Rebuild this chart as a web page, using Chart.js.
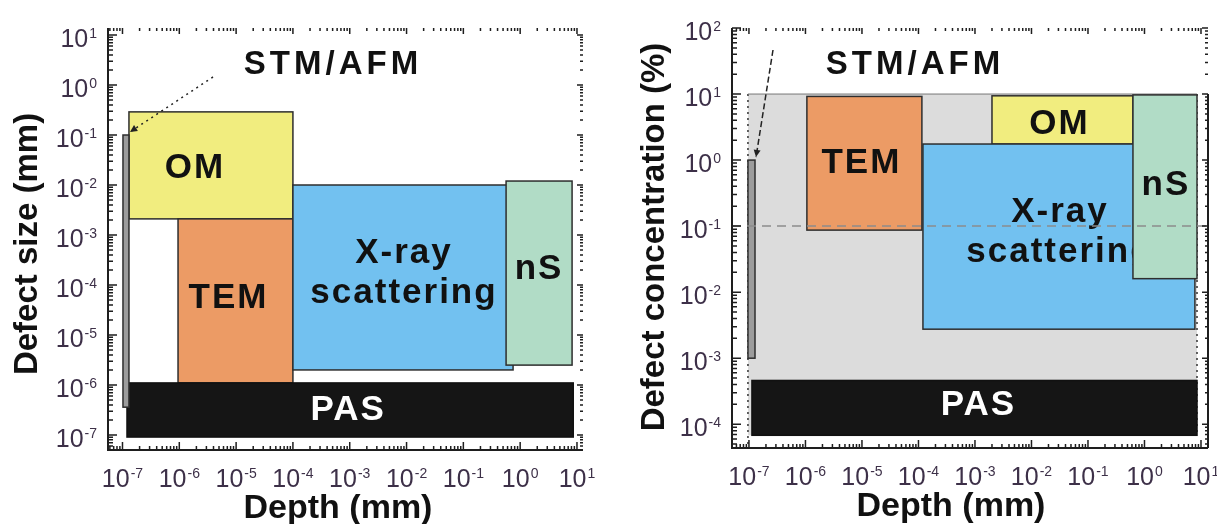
<!DOCTYPE html>
<html>
<head>
<meta charset="utf-8">
<script src="https://cdn.jsdelivr.net/npm/chart.js@4.4.1/dist/chart.umd.min.js"></script>
<style>
  body { margin: 0; background: #fff; }
  #wrap { position: relative; width: 1217px; height: 524px; }
  canvas { position: absolute; top: 0; }
</style>
</head>
<body>
<div id="wrap">
  <canvas id="sizeChart" width="608" height="524" style="left:0"></canvas>
  <canvas id="concChart" width="609" height="524" style="left:608px"></canvas>
</div>
<script>
// ---- defect size vs depth (mm) ----
const sizeMethods = ["OM", "TEM", "X-ray\nscattering", "nS", "PAS", "STM/AFM"];
const sizeDepthLo = [1.3e-7, 9.5e-7, 1e-4, 0.565, 1.2e-7, 1.02e-7];
const sizeDepthHi = [1e-4, 1e-4, 0.75, 8.2, 8.6, 1.3e-7];
const sizeLo = [2.1e-3, 1.1e-6, 2e-6, 2.5e-6, 9.1e-8, 3.6e-7];
const sizeHi = [0.29, 2.1e-3, 0.01, 0.012, 1.1e-6, 0.1];

// ---- defect concentration (%) vs depth (mm) ----
const concMethods = ["TEM", "OM", "X-ray\nscattering", "nS", "PAS", "STM/AFM"];
const concDepthLo = [1.06e-6, 2e-3, 1.2e-4, 0.625, 1.13e-7, 0.96e-7];
const concDepthHi = [1.15e-4, 0.625, 7.8, 8.5, 8.5, 1.28e-7];
const concLo = [0.087, 1.75, 2.75e-3, 0.016, 6.8e-5, 1e-3];
const concHi = [9.2, 9.4, 1.75, 9.7, 4.6e-4, 1.0];
const concSpanDepth = [0.96e-7, 8.5];   // shaded range
const concSpan = [6.8e-5, 10];
const concLimit = 0.1;

// decade exponents used for tick labels
const depthTicks = [-7, -6, -5, -4, -3, -2, -1, 0, 1];
const sizeTicks = [-7, -6, -5, -4, -3, -2, -1, 0, 1];
const concTicks = [-4, -3, -2, -1, 0, 1, 2];

const FONT = '"Liberation Sans", Arial, sans-serif';
const colors = {
  "OM": "#f1ed7f",
  "TEM": "#ec9b65",
  "X-ray\nscattering": "#72c1f0",
  "nS": "#b1dcc6",
  "PAS": "#151515",
  "STM/AFM": "#9c9c9c"
};

function makeDatasets(names, xlo, xhi, ylo, yhi, shifts) {
  return names.map((name, i) => ({
    label: name,
    data: [{ x: xlo[i], y: ylo[i] }, { x: xhi[i], y: yhi[i] }],
    backgroundColor: colors[name],
    borderColor: name === "PAS" ? "#111" : "#2e2e2e",
    text: name === "STM/AFM" ? null : name,
    textColor: name === "PAS" ? "#fff" : "#111",
    shift: shifts[name] || [0, 0],
    pointRadius: 0
  }));
}

function drawBlock(ctx, text, cx, cy, size, lineH, spacing) {
  const lines = text.split("\n");
  const cap = size * 0.716;
  const h = (lines.length - 1) * lineH + cap;
  ctx.font = "bold " + size + "px " + FONT;
  ctx.letterSpacing = spacing + "px";
  ctx.textAlign = "center";
  ctx.textBaseline = "alphabetic";
  lines.forEach((s, i) => ctx.fillText(s, cx + spacing / 2, cy - h / 2 + cap + i * lineH));
  ctx.letterSpacing = "0px";
}

function powLabel(ctx, exp, x, y, align) {
  const sup = String(exp);
  ctx.font = "25px " + FONT;
  const wb = ctx.measureText("10").width;
  ctx.font = "14px " + FONT;
  const ws = ctx.measureText(sup).width;
  const total = wb + 1 + ws;
  const x0 = align === "right" ? x - total : x - total / 2;
  ctx.textAlign = "left";
  ctx.textBaseline = "alphabetic";
  ctx.fillStyle = "#3d3048";
  ctx.font = "25px " + FONT;
  ctx.fillText("10", x0, y);
  ctx.font = "14px " + FONT;
  ctx.fillText(sup, x0 + wb + 1, y - 9);
}

function logTicks(scale, fn) {
  const lo = Math.floor(Math.log10(scale.min)), hi = Math.ceil(Math.log10(scale.max));
  for (let e = lo; e <= hi; e++) {
    for (let k = 1; k <= 9; k++) {
      const v = k * Math.pow(10, e);
      if (v < scale.min || v > scale.max) continue;
      fn(scale.getPixelForValue(v), k === 1);
    }
  }
}

const panelPlugin = {
  id: "panel",
  beforeDatasetsDraw(chart, args, o) {
    const { ctx, chartArea: a, scales: { x, y } } = chart;
    ctx.save();
    if (o.spanX) {
      const l = x.getPixelForValue(o.spanX[0]), r = x.getPixelForValue(o.spanX[1]);
      const t = y.getPixelForValue(o.spanY[1]), b = y.getPixelForValue(o.spanY[0]);
      ctx.fillStyle = "#dcdcdc";
      ctx.fillRect(l, t, r - l, b - t);
      ctx.strokeStyle = "#333";
      ctx.lineWidth = 1.5;
      ctx.setLineDash([2, 4]);
      ctx.beginPath();
      ctx.moveTo(l, t); ctx.lineTo(l, a.bottom - 4);
      ctx.moveTo(r, t); ctx.lineTo(r, b);
      ctx.stroke();
      ctx.setLineDash([]);
      ctx.strokeStyle = "#777";
      ctx.lineWidth = 1;
      ctx.beginPath(); ctx.moveTo(l, t); ctx.lineTo(r, t); ctx.stroke();
    }
    chart.data.datasets.forEach(ds => {
      const [p, q] = ds.data;
      const l = x.getPixelForValue(p.x), r = x.getPixelForValue(q.x);
      const t = y.getPixelForValue(q.y), b = y.getPixelForValue(p.y);
      ctx.fillStyle = ds.backgroundColor;
      ctx.fillRect(l, t, r - l, b - t);
      ctx.strokeStyle = ds.borderColor;
      ctx.lineWidth = 1.5;
      ctx.strokeRect(l, t, r - l, b - t);
      if (ds.text) {
        ctx.fillStyle = ds.textColor;
        drawBlock(ctx, ds.text, (l + r) / 2 + ds.shift[0], (t + b) / 2 + ds.shift[1], 35, 40, 2);
      }
    });
    if (o.limit) {
      const py = y.getPixelForValue(o.limit);
      ctx.strokeStyle = "#8c8c8c";
      ctx.lineWidth = 1.5;
      ctx.setLineDash([9, 6]);
      ctx.beginPath(); ctx.moveTo(a.left, py); ctx.lineTo(a.right, py); ctx.stroke();
      ctx.setLineDash([]);
    }
    ctx.restore();
  },
  afterDraw(chart, args, o) {
    const { ctx, chartArea: a, scales: { x, y } } = chart;
    ctx.save();

    // STM/AFM caption with pointer to its bar
    ctx.fillStyle = "#111";
    drawBlock(ctx, "STM/AFM", o.caption[0], o.caption[1], 33, 38, 4);
    const bar = chart.data.datasets.find(d => d.label === "STM/AFM").data[1];
    const hx = x.getPixelForValue(bar.x) + 1, hy = y.getPixelForValue(bar.y) - 3;
    const tx = o.caption[0] + o.tail[0], ty = o.caption[1] + o.tail[1];
    ctx.strokeStyle = "#222";
    ctx.lineWidth = 1.5;
    ctx.setLineDash(o.tailDash);
    ctx.beginPath(); ctx.moveTo(tx, ty); ctx.lineTo(hx, hy); ctx.stroke();
    ctx.setLineDash([]);
    const ang = Math.atan2(hy - ty, hx - tx);
    ctx.fillStyle = "#222";
    ctx.beginPath();
    ctx.moveTo(hx, hy);
    ctx.lineTo(hx - 8 * Math.cos(ang - 0.45), hy - 8 * Math.sin(ang - 0.45));
    ctx.lineTo(hx - 8 * Math.cos(ang + 0.45), hy - 8 * Math.sin(ang + 0.45));
    ctx.closePath();
    ctx.fill();

    // frame
    ctx.strokeStyle = "#1e1e1e";
    ctx.lineWidth = 2;
    ctx.beginPath();
    ctx.moveTo(a.left, a.top); ctx.lineTo(a.left, a.bottom); ctx.lineTo(a.right, a.bottom);
    if (o.rightLine) { ctx.moveTo(a.right, a.bottom); ctx.lineTo(a.right, y.getPixelForValue(o.rightLine)); }
    ctx.stroke();

    // ticks, inward on all four sides
    ctx.lineWidth = 1.5;
    ctx.beginPath();
    logTicks(x, (p, major) => {
      ctx.moveTo(p, a.bottom); ctx.lineTo(p, a.bottom - (major ? 8 : 4));
      ctx.moveTo(p, a.top); ctx.lineTo(p, a.top + (major ? 6 : 3));
    });
    logTicks(y, (p, major) => {
      ctx.moveTo(a.left, p); ctx.lineTo(a.left + (major ? 9 : 5), p);
      ctx.moveTo(a.right, p); ctx.lineTo(a.right - (major ? 6 : 3), p);
    });
    ctx.stroke();

    // tick labels
    o.xTicks.forEach(e => powLabel(ctx, e, x.getPixelForValue(Math.pow(10, e)), a.bottom + 37, "center"));
    o.yTicks.forEach(e => powLabel(ctx, e, a.left - 11, y.getPixelForValue(Math.pow(10, e)) + 12, "right"));

    // axis titles
    ctx.fillStyle = "#111";
    ctx.font = "bold 34px " + FONT;
    ctx.textAlign = "center";
    ctx.textBaseline = "alphabetic";
    ctx.fillText("Depth (mm)", o.xTitle[0], o.xTitle[1]);
    ctx.font = "bold 33px " + FONT;
    ctx.translate(o.yTitle[0], o.yTitle[1]);
    ctx.rotate(-Math.PI / 2);
    ctx.textBaseline = "middle";
    ctx.fillText(o.yTitleText, 0, 0);
    ctx.restore();
  }
};

function makeChart(id, datasets, xr, yr, padding, panel) {
  return new Chart(document.getElementById(id).getContext("2d"), {
    type: "scatter",
    data: { datasets },
    options: {
      responsive: false,
      animation: false,
      events: [],
      layout: { padding },
      scales: {
        x: { type: "logarithmic", display: false, bounds: "data", min: xr[0], max: xr[1] },
        y: { type: "logarithmic", display: false, bounds: "data", min: yr[0], max: yr[1] }
      },
      plugins: { legend: { display: false }, tooltip: { enabled: false }, panel }
    },
    plugins: [panelPlugin]
  });
}

makeChart("sizeChart",
  makeDatasets(sizeMethods, sizeDepthLo, sizeDepthHi, sizeLo, sizeHi, {
    "OM": [-17, 0], "TEM": [-8, -5], "X-ray\nscattering": [0, -7], "nS": [-1, -7], "PAS": [-3, -3]
  }),
  [Math.pow(10, -7.255), Math.pow(10, 1.106)],
  [Math.pow(10, -7.3), Math.pow(10, 1.14)],
  { left: 108, top: 28, right: 25, bottom: 74 },
  {
    caption: [331, 62], tail: [-118, 15], tailDash: [2, 4],
    xTicks: depthTicks, yTicks: sizeTicks,
    xTitle: [338, 518], yTitle: [28, 244], yTitleText: "Defect size (mm)"
  });

makeChart("concChart",
  makeDatasets(concMethods, concDepthLo, concDepthHi, concLo, concHi, {
    "TEM": [-4, -3], "OM": [-4, 2], "X-ray\nscattering": [0, -7], "nS": [0, -4], "PAS": [3, -5]
  }),
  [Math.pow(10, -7.3), Math.pow(10, 1.124)],
  [Math.pow(10, -4.36), 100],
  { left: 124, top: 28, right: 9, bottom: 76 },
  {
    spanX: concSpanDepth, spanY: concSpan, limit: concLimit, rightLine: 10,
    caption: [305, 62], tail: [-140, -12], tailDash: [6, 3],
    xTicks: depthTicks, yTicks: concTicks,
    xTitle: [343, 516], yTitle: [47, 237], yTitleText: "Defect concentration (%)"
  });
</script>
</body>
</html>
